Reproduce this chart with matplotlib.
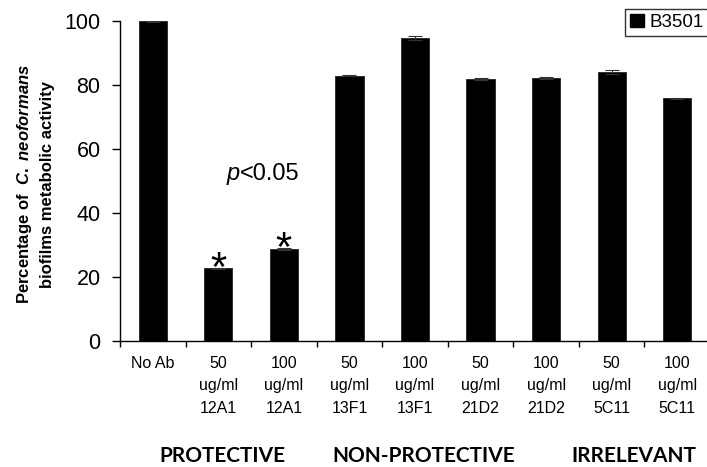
"""Biofilm metabolic activity bar chart (B3501)."""

import matplotlib as mpl
import matplotlib.pyplot as plt
from matplotlib.patches import Patch


GROUPS = ["No Ab", "50\nug/ml\n12A1", "100\nug/ml\n12A1", "50\nug/ml\n13F1",
          "100\nug/ml\n13F1", "50\nug/ml\n21D2", "100\nug/ml\n21D2",
          "50\nug/ml\n5C11", "100\nug/ml\n5C11"]
ACTIVITY = [100.0, 22.7, 28.7, 82.8, 94.6, 81.8, 82.2, 84.0, 75.8]
ERRORS = [0.3, 0.2, 0.3, 0.2, 0.5, 0.2, 0.3, 0.5, 0.2]
SIGNIFICANT = [1, 2]
CLASSES = ["PROTECTIVE", "NON-PROTECTIVE", "IRRELEVANT"]
YTICKS = [0, 20, 40, 60, 80, 100]

W, H = 707, 467

mpl.rcParams.update({
    "font.family": "Liberation Sans",
    "mathtext.fontset": "custom",
    "mathtext.it": "Liberation Sans:italic:bold",
    "mathtext.rm": "Liberation Sans:bold",
})

fig = plt.figure(figsize=(W / 100, H / 100), dpi=100)
ax = fig.add_axes([120 / W, 1 - 341 / H, 590 / W, (341 - 20.7) / H])

x = list(range(len(GROUPS)))
ax.bar(x, ACTIVITY, width=0.43, color="black", edgecolor="#222222", lw=0.6, zorder=2,
       label="B3501")
ax.errorbar(x, ACTIVITY, yerr=ERRORS, fmt="none", ecolor="#333333", elinewidth=0.8,
            capsize=5, capthick=0.8, zorder=3)

ax.set_xlim(-0.5, len(GROUPS) - 0.5)
ax.set_ylim(0, 100)
for side in ["top", "right"]:
    ax.spines[side].set_visible(False)
ax.spines["left"].set_linewidth(1.0)
ax.spines["bottom"].set_linewidth(1.0)

ax.set_yticks(YTICKS)
ax.set_yticklabels([str(v) for v in YTICKS], fontsize=15.5)
ax.tick_params(axis="y", length=6, width=1, pad=8)

ax.set_xticks(x)
ax.set_xticklabels(GROUPS, fontsize=11.5, linespacing=1.6)
ax.set_xticks([i - 0.5 for i in range(len(GROUPS) + 1)], minor=True)
ax.tick_params(axis="x", which="major", length=0, pad=11)
ax.tick_params(axis="x", which="minor", length=4, width=1, direction="out")

# asterisks sit right on the bar tops, slightly overlapping
for i in SIGNIFICANT:
    ax.text(i, ACTIVITY[i] - 0.4, "*", ha="center", va="center", fontsize=30, zorder=4)

fig.text(240 / W, 1 - 174 / H, "p", ha="right", va="center", fontsize=17, style="italic")
fig.text(240 / W, 1 - 174 / H, "<0.05", ha="left", va="center", fontsize=17)

fig.text(35 / W, 1 - 184 / H,
         "Percentage of  $\\mathit{C.\\ neoformans}$\nbiofilms metabolic activity",
         rotation=90, ha="center", va="center", fontsize=12, weight="bold",
         multialignment="center", linespacing=1.55)

for cx, label in zip([222, 424, 634], CLASSES):
    fig.text(cx / W, 1 - 456 / H, label, ha="center", va="center", fontsize=15,
             weight="bold", family="Lato")

handle = Patch(facecolor="black", edgecolor="black")
leg = fig.legend([handle], ["B3501"], loc="upper left", bbox_to_anchor=(625 / W, 1 - 9 / H),
                 fontsize=13.5, frameon=True, fancybox=False, handlelength=0.75,
                 handleheight=0.75, handletextpad=0.3, borderpad=0.25, borderaxespad=0)
leg.get_frame().set_edgecolor("black")
leg.get_frame().set_linewidth(1.0)

fig.savefig("out.png", dpi=100)
